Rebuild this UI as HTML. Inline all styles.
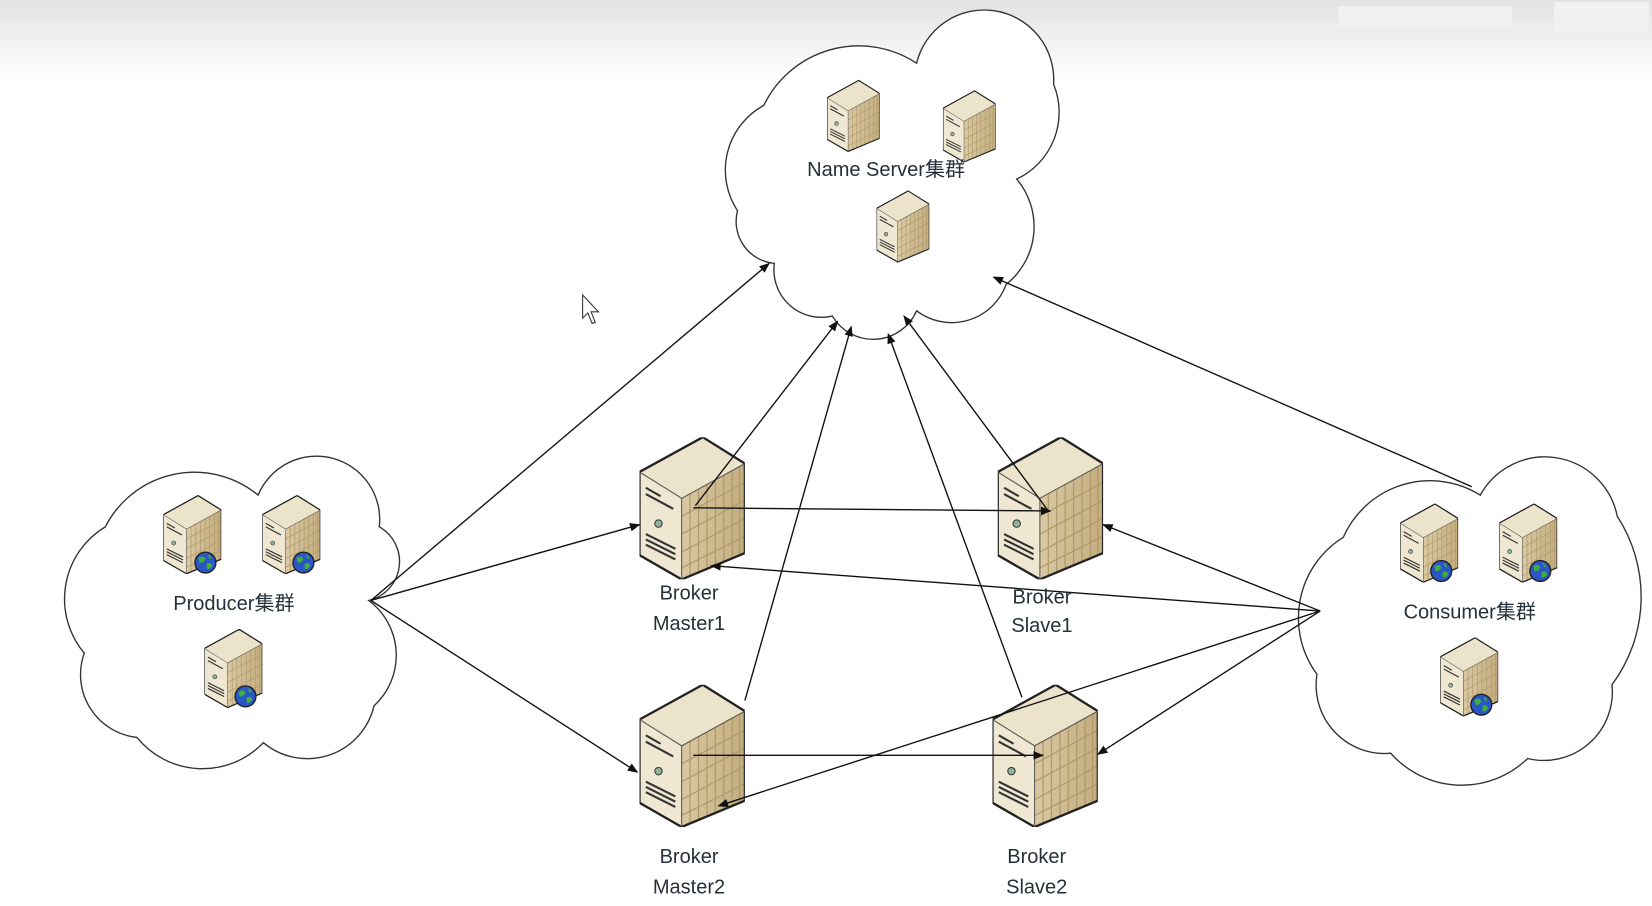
<!DOCTYPE html>
<html><head><meta charset="utf-8"><style>
html,body{margin:0;padding:0;background:#fff;}
svg{display:block;}
text{font-family:"Liberation Sans","Noto Sans CJK SC",sans-serif;fill:#26303a;font-size:19px;text-anchor:middle;}
</style></head><body>
<svg width="1652" height="906" viewBox="0 0 1568 860" preserveAspectRatio="none" xmlns="http://www.w3.org/2000/svg">
<defs>
<linearGradient id="tg" x1="0" y1="0" x2="0" y2="1">
<stop offset="0" stop-color="#e2e2e2"/><stop offset="1" stop-color="#ffffff"/>
</linearGradient>
<linearGradient id="side" x1="0" y1="0" x2="1" y2="0">
<stop offset="0" stop-color="#d9c8a2"/><stop offset="1" stop-color="#c4ad7f"/>
</linearGradient>
<symbol id="srv" viewBox="0 0 100 135">
<polygon points="0,33 60,0 100,25 40,58" fill="#ece3cb"/>
<polygon points="0,33 40,58 40,135 0,112" fill="#efe7d2"/>
<polygon points="40,58 100,25 100,110 40,135" fill="url(#side)"/>
<g stroke="#b09a6c" stroke-width="1.2">
<line x1="48" y1="54" x2="48" y2="131"/><line x1="56" y1="50" x2="56" y2="128"/><line x1="64" y1="45" x2="64" y2="125"/><line x1="72" y1="41" x2="72" y2="121"/><line x1="80" y1="36" x2="80" y2="118"/><line x1="88" y1="32" x2="88" y2="115"/><line x1="95" y1="28" x2="95" y2="112"/>
<line x1="40" y1="75" x2="100" y2="43"/><line x1="40" y1="92" x2="100" y2="60"/><line x1="40" y1="109" x2="100" y2="77"/><line x1="40" y1="124" x2="100" y2="94"/>
</g>
<g stroke="#333" stroke-width="2">
<line x1="6" y1="48" x2="20" y2="56"/><line x1="6" y1="54" x2="32" y2="68"/><line x1="6" y1="92" x2="34" y2="106"/><line x1="6" y1="97" x2="34" y2="111"/><line x1="6" y1="102" x2="34" y2="116"/>
</g>
<circle cx="18" cy="82" r="3.5" fill="#8fb39a" stroke="#333" stroke-width="1"/>
<polygon points="0,33 60,0 100,25 100,110 40,135 0,112" fill="none" stroke="#222" stroke-width="2.2" stroke-linejoin="round"/>
<line x1="40" y1="58" x2="40" y2="135" stroke="#555" stroke-width="1"/>
<line x1="0" y1="33" x2="40" y2="58" stroke="#555" stroke-width="1"/>
<line x1="40" y1="58" x2="100" y2="25" stroke="#555" stroke-width="1"/>
</symbol>
<symbol id="globe" viewBox="0 0 20 20">
<circle cx="10" cy="10" r="9" fill="#2a56c8" stroke="#222" stroke-width="1.2"/>
<path d="M4,6 Q8,3 10,7 Q8,11 5,10Z M11,11 Q15,9 16,13 Q13,17 11,15Z M12,3 Q15,4 15,7 Q13,7 12,3Z" fill="#3fae3a"/>
</symbol>
<marker id="ah" viewBox="0 0 10 10" refX="9" refY="5" markerWidth="11" markerHeight="10" orient="auto" markerUnits="userSpaceOnUse">
<path d="M0,1 L10,5 L0,9 Z" fill="#111"/>
</marker>
</defs>
<rect width="1568" height="860" fill="#fff"/>
<rect width="1568" height="75" fill="url(#tg)"/>
<g fill="#f2f2f2" opacity="0.9">
<rect x="1270" y="6" width="165" height="20"/>
<rect x="1475" y="2" width="90" height="28"/>
</g>

<g fill="#fff" stroke="#333" stroke-width="1.3">
<path d="M700,200 A70,70 0 0 1 725,100 A100,100 0 0 1 870,60 A66,66 0 0 1 1000,80 A70,70 0 0 1 965,170 A70,70 0 0 1 955,270 A55,55 0 0 1 870,295 A45,45 0 0 1 790,300 A45,45 0 0 1 735,250 A40,40 0 0 1 700,200 Z"/>
<path d="M80,620 A80,80 0 0 1 100,500 A95,95 0 0 1 245,470 A60,60 0 0 1 360,500 A38,38 0 0 1 350,570 A65,65 0 0 1 355,670 A65,65 0 0 1 250,705 A80,80 0 0 1 130,700 A60,60 0 0 1 80,620 Z"/>
<path d="M1250,640 A90,90 0 0 1 1275,510 A90,90 0 0 1 1405,470 A70,70 0 0 1 1535,490 A140,140 0 0 1 1530,650 A65,65 0 0 1 1450,720 A90,90 0 0 1 1320,715 A65,65 0 0 1 1250,640 Z"/>
</g>

<use href="#srv" x="785" y="75" width="50" height="70"/>
<use href="#srv" x="895" y="85" width="50" height="70"/>
<use href="#srv" x="832" y="180" width="50" height="70"/>
<use href="#srv" x="155" y="470" width="55" height="75"/>
<use href="#srv" x="249" y="470" width="55" height="75"/>
<use href="#srv" x="194" y="597" width="55" height="75"/>
<use href="#srv" x="1329" y="478" width="55" height="75"/>
<use href="#srv" x="1423" y="478" width="55" height="75"/>
<use href="#srv" x="1367" y="605" width="55" height="75"/>
<use href="#globe" x="184" y="523" width="22" height="22"/>
<use href="#globe" x="277" y="523" width="22" height="22"/>
<use href="#globe" x="222" y="650" width="22" height="22"/>
<use href="#globe" x="1357" y="531" width="22" height="22"/>
<use href="#globe" x="1451" y="531" width="22" height="22"/>
<use href="#globe" x="1395" y="658" width="22" height="22"/>

<use href="#srv" x="607" y="415" width="100" height="135"/>
<use href="#srv" x="947" y="415" width="100" height="135"/>
<use href="#srv" x="607" y="650" width="100" height="135"/>
<use href="#srv" x="942" y="650" width="100" height="135"/>

<g stroke="#111" stroke-width="1.3" fill="none" marker-end="url(#ah)">
<line x1="352" y1="570" x2="730" y2="250"/>
<line x1="352" y1="570" x2="607" y2="498"/>
<line x1="352" y1="570" x2="605" y2="733"/>
<line x1="660" y1="480" x2="795" y2="305"/>
<line x1="658" y1="482" x2="997" y2="485"/>
<line x1="707" y1="665" x2="808" y2="310"/>
<line x1="995" y1="485" x2="858" y2="300"/>
<line x1="970" y1="662" x2="843" y2="317"/>
<line x1="658" y1="717" x2="990" y2="717"/>
<line x1="1397" y1="462" x2="943" y2="263"/>
<line x1="1253" y1="580" x2="675" y2="537"/>
<line x1="1253" y1="580" x2="1047" y2="498"/>
<line x1="1253" y1="580" x2="682" y2="765"/>
<line x1="1253" y1="580" x2="1042" y2="716"/>
</g>

<path d="M553,280 L553,302 L558,297 L562,307 L565,306 L561,296 L568,296 Z" fill="#fff" stroke="#333" stroke-width="1"/>

<text x="841" y="167">Name Server集群</text>
<text x="222" y="579">Producer集群</text>
<text x="1395" y="587">Consumer集群</text>
<text x="654" y="569">Broker</text>
<text x="654" y="598">Master1</text>
<text x="989" y="573">Broker</text>
<text x="989" y="600">Slave1</text>
<text x="654" y="819">Broker</text>
<text x="654" y="848">Master2</text>
<text x="984" y="819">Broker</text>
<text x="984" y="848">Slave2</text>
</svg>
</body></html>
